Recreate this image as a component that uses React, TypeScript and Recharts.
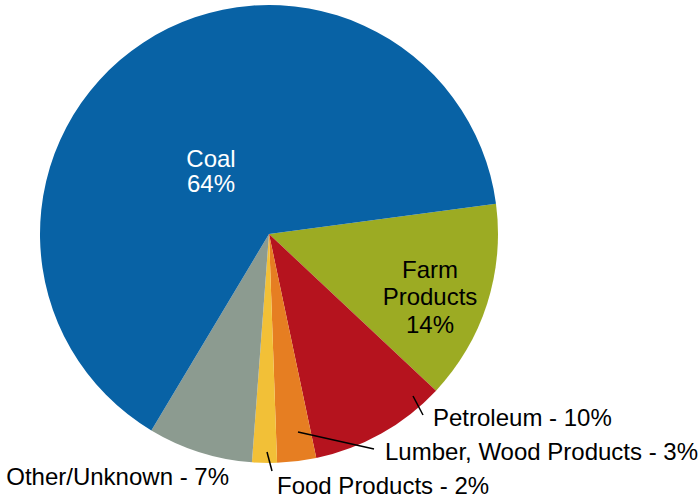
import React from 'react';
import { PieChart, Pie, Cell } from 'recharts';

const categories = ['Farm Products', 'Petroleum', 'Lumber, Wood Products', 'Food Products', 'Other/Unknown', 'Coal'];
// shares as measured from the slice angles (labels show rounded percents)
const shares = [14.1, 9.7, 2.75, 1.75, 7.4, 64.3];
const colors = ['#9CAB23', '#B5131E', '#E67E22', '#F2C037', '#8C9B90', '#0862A5'];

const data = categories.map((name, i) => ({ name, value: shares[i] }));

// label placement relative to the pie centre
const labelSpots: Record<string, any> = {
  Coal: { lines: ['Coal', '64%'], x: -58, y: -76, step: 25, anchor: 'middle', fill: '#fff' },
  'Farm Products': { lines: ['Farm', 'Products', '14%'], x: 161, y: 35, step: 27.5, anchor: 'middle', fill: '#000' },
  Petroleum: { lines: ['Petroleum - 10%'], x: 164, y: 183, anchor: 'start', fill: '#000', line: [144, 162, 154, 181] },
  'Lumber, Wood Products': { lines: ['Lumber, Wood Products - 3%'], x: 116, y: 217, anchor: 'start', fill: '#000', line: [29, 198, 105, 215] },
  'Food Products': { lines: ['Food Products - 2%'], x: 8, y: 251, anchor: 'start', fill: '#000', line: [-2, 218, 3, 237] },
  'Other/Unknown': { lines: ['Other/Unknown - 7%'], x: -40, y: 242, anchor: 'end', fill: '#000' },
};

const renderLabel = (props: any) => {
  const { cx, cy, name } = props;
  const spot = labelSpots[name];
  if (!spot) return null;
  return (
    <g>
      {spot.line && (
        <line
          x1={cx + spot.line[0]}
          y1={cy + spot.line[1]}
          x2={cx + spot.line[2]}
          y2={cy + spot.line[3]}
          stroke="#000"
          strokeWidth={1.5}
        />
      )}
      {spot.lines.map((t: string, i: number) => (
        <text
          key={i}
          x={cx + spot.x}
          y={cy + spot.y + i * (spot.step || 0)}
          textAnchor={spot.anchor}
          dominantBaseline="central"
          fill={spot.fill}
          fontSize={24}
          fontFamily="'Liberation Sans', Arial, sans-serif"
        >
          {t}
        </text>
      ))}
    </g>
  );
};

export default function App() {
  return (
    <div style={{ position: 'absolute', left: 0, top: 0, background: '#fff' }}>
      <PieChart width={698} height={500} margin={{ top: 0, right: 0, bottom: 0, left: 0 }}>
        <Pie
          data={data}
          dataKey="value"
          nameKey="name"
          cx={269}
          cy={234}
          outerRadius={229}
          startAngle={7.6}
          endAngle={-352.4}
          stroke="none"
          label={renderLabel}
          labelLine={false}
          isAnimationActive={false}
        >
          {data.map((d, i) => (
            <Cell key={d.name} fill={colors[i]} />
          ))}
        </Pie>
      </PieChart>
    </div>
  );
}
